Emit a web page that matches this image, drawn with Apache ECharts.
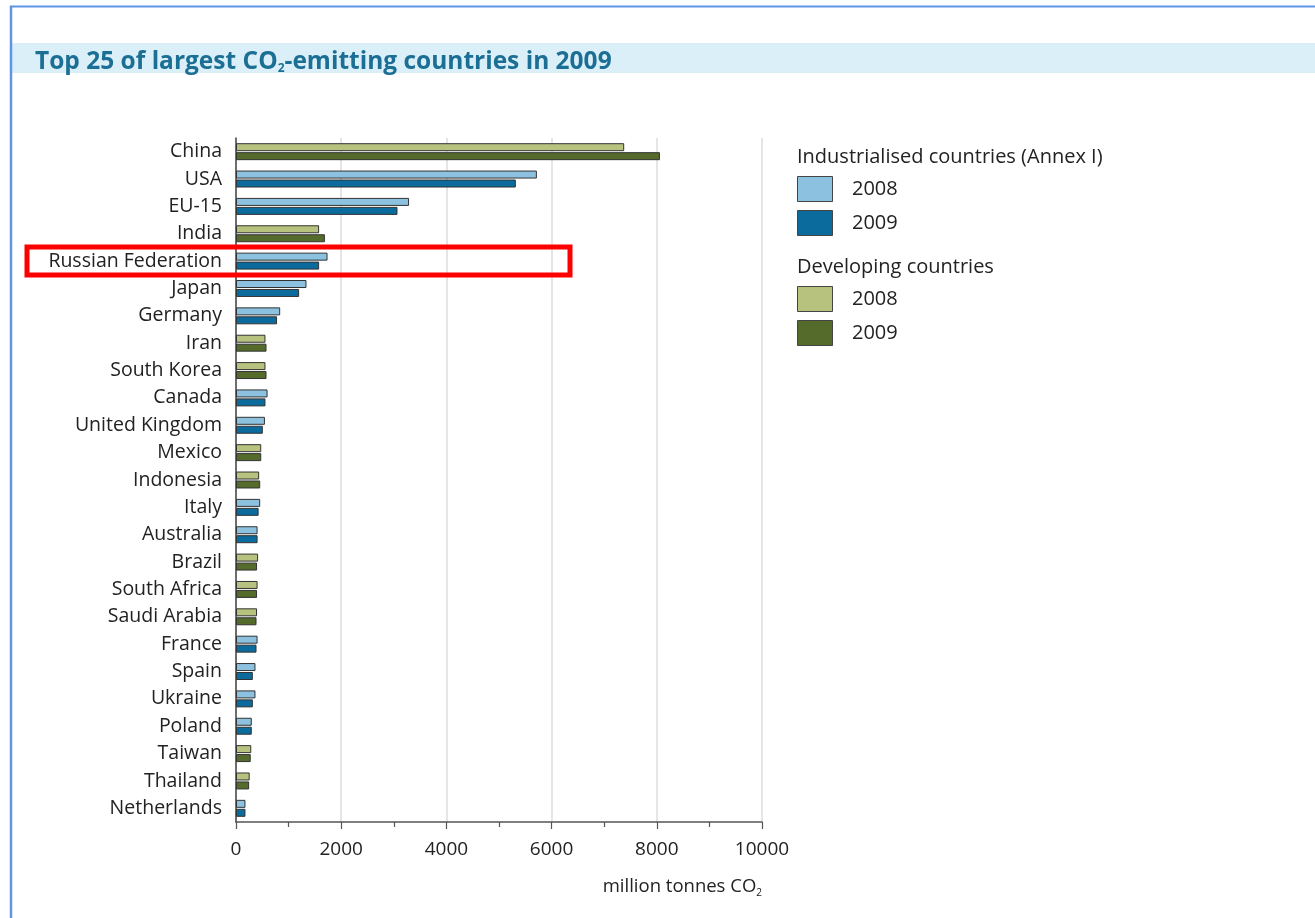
<!DOCTYPE html>
<html>
<head>
<meta charset="utf-8">
<script src="https://cdn.jsdelivr.net/npm/echarts@6/dist/echarts.min.js"></script>
<style>
  html, body { margin: 0; padding: 0; background: #fff; }
  #chart { width: 1315px; height: 918px; }
</style>
</head>
<body>
<div id="chart"></div>
<script>
// countries, top to bottom
var countries = ['China', 'USA', 'EU-15', 'India', 'Russian Federation', 'Japan', 'Germany', 'Iran',
    'South Korea', 'Canada', 'United Kingdom', 'Mexico', 'Indonesia', 'Italy', 'Australia', 'Brazil',
    'South Africa', 'Saudi Arabia', 'France', 'Spain', 'Ukraine', 'Poland', 'Taiwan', 'Thailand', 'Netherlands'];
// I = industrialised (Annex I), D = developing
var groups = ['D', 'I', 'I', 'D', 'I', 'I', 'I', 'D', 'D', 'I', 'I', 'D', 'D', 'I', 'I', 'D',
    'D', 'D', 'I', 'I', 'I', 'I', 'D', 'D', 'I'];
var emissions2008 = [7380, 5720, 3290, 1580, 1740, 1340, 840, 560, 560, 600, 550, 480, 440, 460, 410, 420,
    410, 400, 410, 370, 370, 300, 290, 260, 180];
var emissions2009 = [8060, 5320, 3070, 1690, 1580, 1200, 780, 580, 580, 560, 510, 480, 460, 430, 410, 400,
    400, 390, 390, 320, 320, 300, 280, 250, 180];
var xTicks = [0, 2000, 4000, 6000, 8000, 10000];

var colors = {
    I: { y2008: '#8cc1df', y2009: '#0a6b9c' },
    D: { y2008: '#b6c27d', y2009: '#556b2b' }
};
var labelFont = '"Open Sans", "Noto Sans", sans-serif';

function buildData(values, key) {
    var out = [];
    for (var i = 0; i < values.length; i++) {
        out.push({
            value: values[i],
            itemStyle: { color: colors[groups[i]][key] }
        });
    }
    return out;
}

function legendItems() {
    var items = [];
    var rows = [
        { type: 'head', text: 'Industrialised countries (Annex I)', y: 157 },
        { type: 'box', color: colors.I.y2008, text: '2008', y: 189 },
        { type: 'box', color: colors.I.y2009, text: '2009', y: 223 },
        { type: 'head', text: 'Developing countries', y: 267 },
        { type: 'box', color: colors.D.y2008, text: '2008', y: 299 },
        { type: 'box', color: colors.D.y2009, text: '2009', y: 333 }
    ];
    rows.forEach(function (r) {
        if (r.type === 'head') {
            items.push({ type: 'text', style: { x: 797, y: r.y, text: r.text, verticalAlign: 'middle',
                fontFamily: labelFont, fontSize: 20, fill: '#222' } });
        } else {
            items.push({ type: 'rect', shape: { x: 797.5, y: r.y - 12.5, width: 35, height: 25 },
                style: { fill: r.color, stroke: '#444', lineWidth: 1 } });
            items.push({ type: 'text', style: { x: 852, y: r.y, text: r.text, verticalAlign: 'middle',
                fontFamily: labelFont, fontSize: 20, fill: '#222' } });
        }
    });
    return items;
}

var chart = echarts.init(document.getElementById('chart'));
var option = {
    backgroundColor: '#fff',
    animation: false,
    title: {
        text: 'Top 25 of largest CO{sub|2}-emitting countries in 2009',
        left: 30,
        top: 44,
        textStyle: {
            fontFamily: labelFont,
            fontSize: 24.5,
            fontWeight: 'bold',
            color: '#1b6e94',
            rich: {
                sub: { fontFamily: labelFont, fontSize: 12, fontWeight: 'bold', color: '#1b6e94', padding: [14, 0, 0, 0] }
            }
        }
    },
    grid: { left: 236, right: 553, top: 138, bottom: 96, containLabel: false },
    xAxis: {
        type: 'value',
        min: 0,
        max: 10000,
        interval: 2000,
        name: 'million tonnes CO{sub|2}',
        nameLocation: 'end',
        nameGap: 0,
        nameTextStyle: {
            fontFamily: labelFont,
            fontSize: 18.5,
            color: '#222',
            align: 'right',
            verticalAlign: 'top',
            padding: [54, 0, 0, 0],
            rich: { sub: { fontSize: 10, color: '#222', padding: [12, 0, 0, 0] } }
        },
        axisLine: { show: true, lineStyle: { color: '#555', width: 1.5 } },
        axisTick: { show: true, length: 7, lineStyle: { color: '#555', width: 1.2 } },
        minorTick: { show: true, splitNumber: 2, length: 5, lineStyle: { color: '#555', width: 1.2 } },
        axisLabel: {
            fontFamily: labelFont,
            fontSize: 19,
            color: '#222',
            margin: 18,
            formatter: function (v) { return String(v); },
            customValues: xTicks
        },
        splitLine: { show: true, lineStyle: { color: '#dcdcdc', width: 1.5 } }
    },
    yAxis: {
        type: 'category',
        data: countries,
        inverse: true,
        axisLine: { show: true, lineStyle: { color: '#444', width: 1.5 } },
        axisTick: { show: false },
        axisLabel: { fontFamily: labelFont, fontSize: 19.5, color: '#222', margin: 14, padding: [3, 0, 0, 0] }
    },
    series: [
        {
            name: '2008',
            type: 'bar',
            barWidth: 8,
            barGap: '12%',
            itemStyle: { borderColor: '#333', borderWidth: 1 },
            data: buildData(emissions2008, 'y2008')
        },
        {
            name: '2009',
            type: 'bar',
            barWidth: 8,
            itemStyle: { borderColor: '#333', borderWidth: 1 },
            data: buildData(emissions2009, 'y2009')
        }
    ],
    graphic: []
};
chart.setOption(option);

// frame, title band, legend and highlight box around Russian Federation
var russiaY = chart.convertToPixel({ yAxisIndex: 0 }, 'Russian Federation');
var boxRight = chart.convertToPixel({ xAxisIndex: 0 }, 6350);
var graphics = [
    { type: 'rect', z: -10, shape: { x: 12, y: 43, width: 1303, height: 30 }, style: { fill: '#dbeff9' } },
    { type: 'line', shape: { x1: 11, y1: 6, x2: 11, y2: 918 }, style: { stroke: '#5f95e3', lineWidth: 2.5 } },
    { type: 'line', shape: { x1: 10, y1: 6.5, x2: 1315, y2: 6.5 }, style: { stroke: '#5f95e3', lineWidth: 2 } },
    { type: 'rect', z: 100, shape: { x: 27, y: russiaY - 14, width: boxRight - 27, height: 28 },
        style: { fill: null, stroke: '#ff0000', lineWidth: 5 } }
];
chart.setOption({ graphic: graphics.concat(legendItems()) });
</script>
</body>
</html>
